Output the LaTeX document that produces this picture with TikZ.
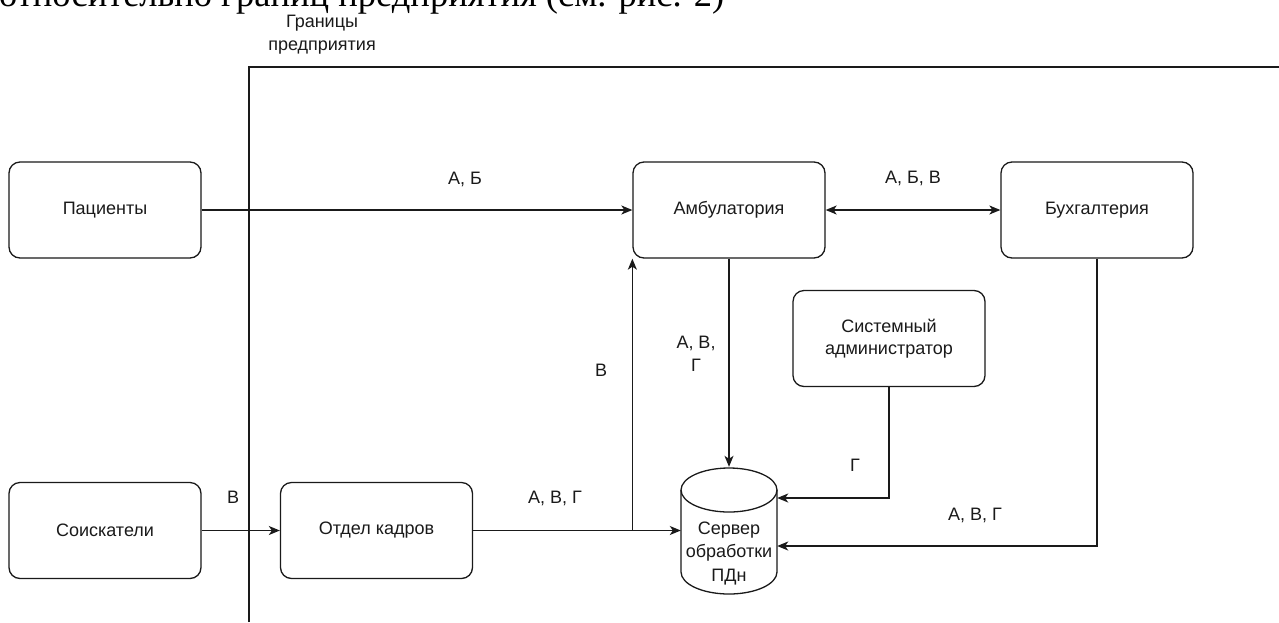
\documentclass[tikz,border=0pt]{standalone}
\usepackage{fontspec}
\setmainfont{Liberation Sans}
\newfontfamily\bodyserif{Liberation Serif}
\usetikzlibrary{arrows.meta}
\definecolor{ink}{HTML}{1A1A1A}
\tikzset{
  box/.style={draw=ink, line width=1.3pt, rounded corners=11pt, minimum width=192pt, minimum height=96pt, inner sep=0pt, align=center, font=\fontsize{18}{22}\selectfont, text=ink},
  lbl/.style={inner sep=0pt, align=center, font=\fontsize{18}{23}\selectfont, text=ink},
  conn/.style={draw=ink, line width=1.3pt},
  arr/.style={conn, -{Stealth[length=11pt,width=9pt,inset=3pt]}},
  barr/.style={conn, {Stealth[length=11pt,width=9pt,inset=3pt]}-{Stealth[length=11pt,width=9pt,inset=3pt]}}
}
\begin{document}
\begin{tikzpicture}[x=1pt,y=-1pt]
\useasboundingbox (0,0) rectangle (1279,622);
\begin{scope}
\clip (0,0) rectangle (1279,622);
\fill[white] (0,0) rectangle (1279,622);
% clipped body text line at top
\node[anchor=base west, inner sep=0pt, font=\bodyserif\fontsize{36.5}{40}\selectfont] (cut) at (-1,6.5) {относительно границ предприятия (см. рис. 2)};
% enterprise boundary
\coordinate (fb) at (249,622);
\coordinate (fc) at (249,67);
\coordinate (fr) at (1279,67);
\draw[conn] (fb) -- (fc) -- (fr);
\node[lbl] (bnd) at (322,35) {Границы\\предприятия};

% boxes
\node[box] (pac) at (105,210) {Пациенты};
\node[box] (amb) at (729,210) {Амбулатория};
\node[box] (buh) at (1097,210) {Бухгалтерия};
\node[box] (adm) at (889,338.5) {Системный\\администратор};
\node[box] (soi) at (105,530.5) {Соискатели};
\node[box] (okd) at (376.5,530.5) {Отдел кадров};

% server cylinder
\node[minimum width=96pt, minimum height=128pt, inner sep=0pt] (srv) at (729,531) {};
\draw[ink, line width=1.3pt] (681,490) -- (681,572) arc[start angle=180, end angle=360, x radius=48pt, y radius=22pt] -- (777,490);
\draw[ink, line width=1.3pt] (729,490) ellipse[x radius=48pt, y radius=22pt];
\node[lbl, font=\fontsize{18}{23.5}\selectfont] (srvt) at (729,553) {Сервер\\обработки\\ПДн};

% connectors
\draw[arr] (pac.east) -- (amb.west);
\draw[barr] (amb.east) -- (buh.west);
\draw[arr] (amb.south) -- (srv.north);
\coordinate (admc) at (adm.south |- 0,498);
\draw[arr] (adm.south) -- (admc) -- (srv.east |- admc);
\coordinate (buhc) at (buh.south |- 0,546);
\draw[arr] (buh.south) -- (buhc) -- (srv.east |- buhc);
\draw[arr] (soi.east) -- (okd.west);
\draw[arr] (okd.east) -- (srv.west |- okd.east);
\coordinate (br) at (amb.south west |- okd.east);
\draw[arr] (br) -- (amb.south west);

% connector labels
\node[lbl] (l1) at (465,179) {А, Б};
\node[lbl] (l2) at (913,178) {А, Б, В};
\node[lbl] (l3) at (696,354) {А, В,\\Г};
\node[lbl] (l4) at (601,370) {В};
\node[lbl] (l5) at (855,465) {Г};
\node[lbl] (l6) at (975,515) {А, В, Г};
\node[lbl] (l7) at (233,497) {В};
\node[lbl] (l8) at (555,498) {А, В, Г};
\end{scope}
\end{tikzpicture}
\end{document}
